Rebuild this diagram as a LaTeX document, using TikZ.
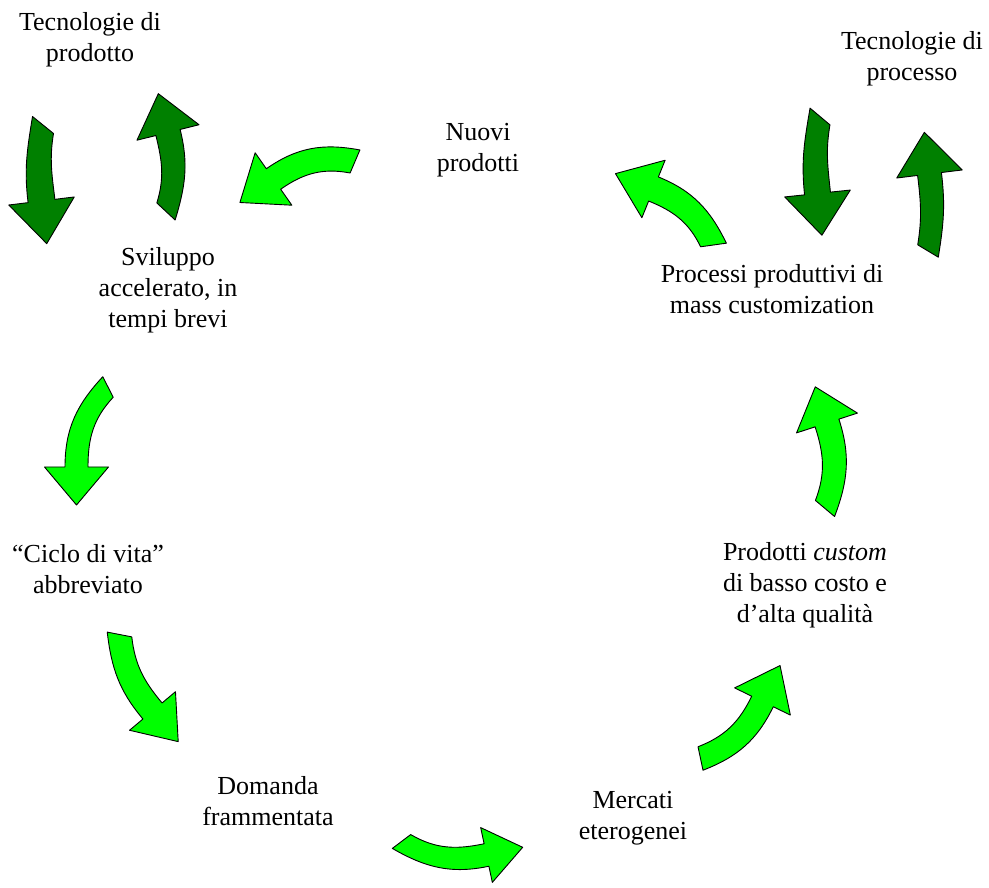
\documentclass[tikz,border=0pt]{standalone}
\usepackage{fontspec}
\setmainfont{Liberation Serif}
\usetikzlibrary{calc}

\definecolor{lightgreen}{RGB}{0,255,0}
\definecolor{darkgreen}{RGB}{0,128,0}

% Curved block arrow along a circular-like arc:
% #1 style, #2 tail midpoint, #3 normal of the tail cut, #4 midpoint of the head base,
% #5 direction at head, #6 body width, #7 half width of head, #8 head length
% The body direction at the tail follows from the chord (arc symmetry).
\newcommand\curvedblock[8]{%
  \pgfmathsetmacro\cbTl{#3+90}\pgfmathsetmacro\cbTr{#3-90}%
  \pgfmathsetmacro\cbHl{#5+90}\pgfmathsetmacro\cbHr{#5-90}%
  \pgfmathsetmacro\cbHb{#5+180}\pgfmathsetmacro\cbw{#6/2}%
  \path[#1] let \p1=#2, \p2=#4,
      \n1={2*atan2(\y2-\y1,\x2-\x1)-#5} in
    ($#2+(\cbTl:\cbw)$) to[out=\n1,in=\cbHb] ($#4+(\cbHl:\cbw)$)
    -- ($#4+(\cbHl:#7)$) -- ($#4+(#5:#8)$) -- ($#4+(\cbHr:#7)$)
    -- ($#4+(\cbHr:\cbw)$) to[out=\cbHb,in=\n1] ($#2+(\cbTr:\cbw)$) -- cycle;
}

\tikzset{
  label text/.style={align=center, font=\fontsize{26}{31}\selectfont, inner sep=0pt},
  cycle arrow/.style={fill=lightgreen, draw=black, line width=0.9pt, line join=round},
  tech arrow/.style={fill=darkgreen, draw=black, line width=0.9pt, line join=round}
}

\begin{document}
\begin{tikzpicture}[x=1pt,y=1pt]
\useasboundingbox (0,0) rectangle (989,888);

% texts
\node[label text] (tprod) at (90,848) {Tecnologie di\\prodotto};
\node[label text] (nuovi) at (478,738) {Nuovi\\prodotti};
\node[label text] (tproc) at (912,829) {Tecnologie di\\processo};
\node[label text] (svil) at (168,598) {Sviluppo\\accelerato, in\\tempi brevi};
\node[label text] (proc) at (772,599) {Processi produttivi di\\mass customization};
\node[label text] (ciclo) at (88,319) {“Ciclo di vita”\\abbreviato};
\node[label text] (custom) at (805,303) {Prodotti \textit{custom}\\di basso costo e\\d’alta qualità};
\node[label text] (domanda) at (268,87) {Domanda\\frammentata};
\node[label text] (mercati) at (633,70) {Mercati\\eterogenei};

% technology loops
\curvedblock{tech arrow}{(43,763)}{231}{(41.5,687)}{277}{27}{33}{43}
\curvedblock{tech arrow}{(166,676.5)}{47}{(168,755.5)}{104}{25}{32}{40}
\curvedblock{tech arrow}{(820,771.5)}{230}{(817.5,694.5)}{276}{26}{33}{42}
\curvedblock{tech arrow}{(928,637)}{59}{(929.5,714)}{97}{24}{33}{42}

% main cycle
\curvedblock{cycle arrow}{(355,726.5)}{157}{(273.5,709)}{215}{25}{32}{41}
\curvedblock{cycle arrow}{(108,501)}{207}{(76.5,421)}{270}{23}{32}{38}
\curvedblock{cycle arrow}{(119.5,253.5)}{259}{(152.5,177)}{310}{25}{30}{40}
\curvedblock{cycle arrow}{(401.5,46.5)}{307}{(486.5,33)}{12}{23}{28}{37}
\curvedblock{cycle arrow}{(700.5,129.5)}{12}{(762.5,186.5)}{64}{24}{31}{40}
\curvedblock{cycle arrow}{(825,379.5)}{50}{(827,465)}{108}{25}{32}{38}
\curvedblock{cycle arrow}{(713.5,643)}{98}{(653.5,699)}{158}{26}{31}{41}
\end{tikzpicture}
\end{document}
